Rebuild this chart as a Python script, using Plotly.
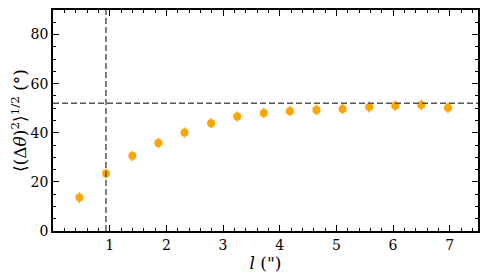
import plotly.graph_objects as go

# Data
l_arcsec = [0.465, 0.935, 1.40, 1.86, 2.32, 2.79, 3.25, 3.72, 4.18, 4.65, 5.11, 5.58, 6.04, 6.50, 6.97]
dtheta_rms = [13.6, 23.4, 30.6, 35.8, 40.1, 43.9, 46.6, 48.1, 48.8, 49.3, 49.7, 50.5, 51.0, 51.3, 50.2]
dtheta_err = [2.2, 2.0, 2.1, 2.1, 2.1, 2.1, 2.1, 2.1, 2.1, 2.1, 2.1, 2.2, 2.2, 2.2, 2.1]
vline_x = 0.935
hline_y = 52.0
x_ticks = [1, 2, 3, 4, 5, 6, 7]
y_ticks = [0, 20, 40, 60, 80]

FONT = "DejaVu Serif"

fig = go.Figure()
fig.add_trace(go.Scatter(
    x=l_arcsec, y=dtheta_rms, mode="markers",
    marker=dict(color="#FFA500", size=8, line=dict(width=0)),
    error_y=dict(type="data", array=dtheta_err, color="#FFA500", thickness=1.5, width=0),
    showlegend=False,
))

fig.add_shape(type="line", xref="x", yref="paper", x0=vline_x, x1=vline_x, y0=0, y1=1,
              line=dict(color="#555555", width=1.5, dash="6px,3px"), layer="above")
fig.add_shape(type="line", xref="paper", yref="y", x0=0, x1=1, y0=hline_y, y1=hline_y,
              line=dict(color="#555555", width=1.5, dash="6px,3px"), layer="above")

axis_common = dict(
    showline=True, linecolor="black", linewidth=1.5, mirror="allticks",
    ticks="inside", ticklen=6, tickwidth=1, tickcolor="black",
    showgrid=False, zeroline=False, automargin=False,
    tickfont=dict(family=FONT, size=14, color="black"),
)

fig.update_xaxes(
    range=[0, 7.5], tickvals=x_ticks,
    minor=dict(dtick=0.2, tick0=0, ticks="inside", ticklen=3, tickcolor="black", showgrid=False),
    title=dict(text="<i>l</i> (\")", font=dict(family=FONT, size=17, color="black"), standoff=2),
    **axis_common,
)
fig.update_yaxes(
    range=[0, 90], tickvals=y_ticks,
    minor=dict(dtick=5, tick0=0, ticks="inside", ticklen=3, tickcolor="black", showgrid=False),
    title=dict(text="⟨(Δ<i>θ</i>)<sup>2</sup>⟩<sup>1/2</sup> (°)", font=dict(family=FONT, size=17, color="black"), standoff=4),
    **axis_common,
)

# page body has an 8px margin, so the figure is sized/offset to compensate
fig.update_layout(
    width=480, height=271,
    margin=dict(l=45, r=10, t=2, b=48),
    plot_bgcolor="white", paper_bgcolor="white",
    font=dict(family=FONT, color="black"),
)

fig.write_html("out.html")
